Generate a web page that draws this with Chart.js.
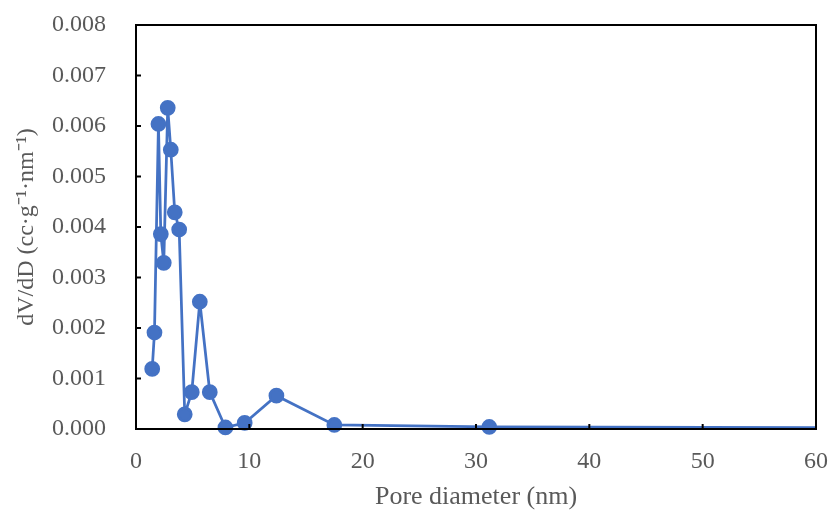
<!DOCTYPE html>
<html>
<head>
<meta charset="utf-8">
<script src="https://cdn.jsdelivr.net/npm/chart.js@4.4.1/dist/chart.umd.min.js"></script>
<style>
  html, body { margin: 0; padding: 0; background: #fff; }
  #wrap { width: 831px; height: 511px; }
</style>
</head>
<body>
<div id="wrap"><canvas id="poreChart" width="831" height="511"></canvas></div>
<script>
// pore diameter (nm) and dV/dD values
const poreDiameter = [1.43, 1.63, 1.98, 2.19, 2.45, 2.80, 3.07, 3.42, 3.81, 4.30, 4.92, 5.63, 6.51, 7.89, 9.59, 12.39, 17.5, 31.17, 80];
const dVdD = [0.00119, 0.00191, 0.00604, 0.00386, 0.00329, 0.00636, 0.00553, 0.00429, 0.00395, 0.00029, 0.00073, 0.00252, 0.00073, 0.00003, 0.00012, 0.00066, 0.00008, 0.00004, 0.00002];
const xTicks = [0, 10, 20, 30, 40, 50, 60];
const yTicks = [0, 0.001, 0.002, 0.003, 0.004, 0.005, 0.006, 0.007, 0.008];

const textGray = '#595959';
const serif = '"Liberation Serif", "Times New Roman", serif';

// frame and inward ticks
const framePlugin = {
    id: 'frame',
    afterDatasetsDraw(chart) {
        const { ctx, chartArea: a, scales } = chart;
        ctx.save();
        ctx.strokeStyle = '#000';
        ctx.lineWidth = 2;
        ctx.strokeRect(a.left, a.top, a.right - a.left, a.bottom - a.top);
        ctx.beginPath();
        xTicks.slice(1, -1).forEach(v => {
            const x = scales.x.getPixelForValue(v);
            ctx.moveTo(x, a.bottom);
            ctx.lineTo(x, a.bottom - 5);
        });
        yTicks.slice(1, -1).forEach(v => {
            const y = scales.y.getPixelForValue(v);
            ctx.moveTo(a.left, y);
            ctx.lineTo(a.left + 5, y);
        });
        ctx.stroke();
        ctx.restore();
    }
};

new Chart(document.getElementById('poreChart'), {
    type: 'scatter',
    data: {
        datasets: [{
            data: poreDiameter.map((d, i) => ({ x: d, y: dVdD[i] })),
            showLine: true,
            borderColor: '#4472C4',
            backgroundColor: '#4472C4',
            borderWidth: 2.75,
            pointRadius: 6.5,
            pointHoverRadius: 6.5,
            clip: { left: 10, top: 10, right: 0, bottom: 10 }
        }]
    },
    options: {
        responsive: false,
        animation: false,
        layout: { autoPadding: false, padding: { top: 25, right: 15, left: 0, bottom: 0 } },
        plugins: { legend: { display: false }, tooltip: { enabled: false } },
        scales: {
            x: {
                type: 'linear',
                min: 0,
                max: 60,
                afterBuildTicks: s => { s.ticks = xTicks.map(v => ({ value: v })); },
                afterFit: s => { s.height = 82; s.paddingLeft = 0; s.paddingRight = 0; },
                grid: { display: false, drawTicks: false },
                border: { display: false },
                ticks: { color: textGray, font: { family: serif, size: 24 }, padding: 18 },
                title: { display: true, text: 'Pore diameter (nm)', color: textGray, font: { family: serif, size: 26 }, padding: { top: 2, bottom: -2 } }
            },
            y: {
                type: 'linear',
                min: 0,
                max: 0.008,
                afterBuildTicks: s => { s.ticks = yTicks.map(v => ({ value: v })); },
                afterFit: s => { s.width = 136; s.paddingTop = 0; s.paddingBottom = 0; },
                grid: { display: false, drawTicks: false },
                border: { display: false },
                ticks: { color: textGray, font: { family: serif, size: 24 }, padding: 30, callback: v => v.toFixed(3) },
                title: { display: true, text: 'dV/dD (cc·g⁻¹·nm⁻¹)', color: textGray, font: { family: serif, size: 24 }, padding: { top: 12, bottom: 4 } }
            }
        }
    },
    plugins: [framePlugin]
});
</script>
</body>
</html>
